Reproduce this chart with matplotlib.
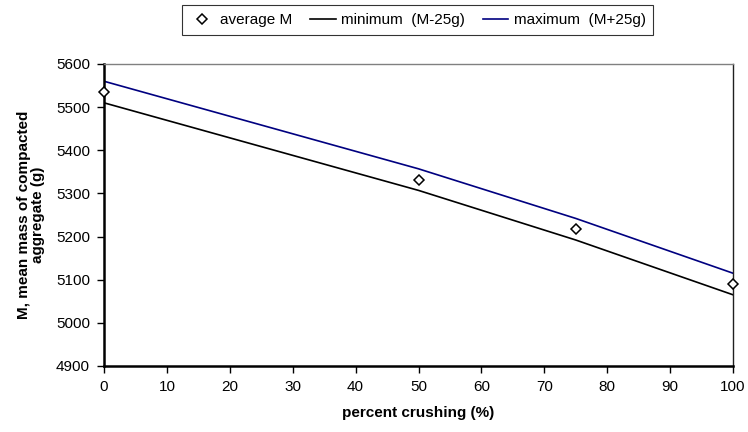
import matplotlib.pyplot as plt
import numpy as np

plt.rcParams['font.family'] = ['Liberation Sans', 'DejaVu Sans']

# data
crushing = [0, 50, 75, 100]
avg_m = [5535, 5332, 5217, 5090]
min_m = [5510, 5307, 5192, 5065]
max_m = [5560, 5357, 5242, 5115]

x_ticks = np.arange(0, 101, 10)
y_ticks = np.arange(4900, 5601, 100)

fig = plt.figure(figsize=(7.48, 4.32), dpi=100)
ax = fig.add_axes([0.139, 0.1528, 0.841, 0.6991])

l_avg, = ax.plot(crushing, avg_m, linestyle='none', marker='D', markersize=5,
                 markerfacecolor='white', markeredgecolor='black', markeredgewidth=1.1,
                 label='average M', zorder=4, clip_on=False)
l_min, = ax.plot(crushing, min_m, color='black', linewidth=1.2, label='minimum  (M-25g)')
l_max, = ax.plot(crushing, max_m, color='#000080', linewidth=1.2, label='maximum  (M+25g)')

ax.set_xlim(0, 100)
ax.set_ylim(4900, 5600)
ax.set_xticks(x_ticks)
ax.set_yticks(y_ticks)
ax.tick_params(direction='out', length=5, width=1, labelsize=11, pad=5)

for side in ['left', 'bottom']:
    ax.spines[side].set_linewidth(1.8)
    ax.spines[side].set_color('black')
ax.spines['top'].set_color('#808080')
ax.spines['right'].set_color('#202020')
ax.spines['top'].set_linewidth(1.0)
ax.spines['right'].set_linewidth(1.0)

ax.set_xlabel('percent crushing (%)', fontweight='bold', fontsize=11, labelpad=9)
ax.set_ylabel('M, mean mass of compacted\naggregate (g)', fontweight='bold', fontsize=11,
              labelpad=8, linespacing=1.0)

leg = fig.legend(handles=[l_avg, l_min, l_max], loc='center',
                 bbox_to_anchor=(0.558, 0.954), ncol=3, fontsize=11,
                 frameon=True, fancybox=False, edgecolor='black',
                 handlelength=1.65, handletextpad=0.35, columnspacing=1.2,
                 borderpad=0.5, borderaxespad=0)
leg.get_frame().set_linewidth(0.8)

fig.savefig('out.png', dpi=100)
